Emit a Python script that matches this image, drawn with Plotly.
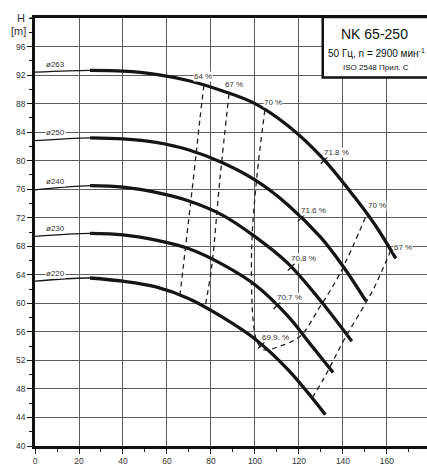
import plotly.graph_objects as go

# ---------------- data ----------------
Q_263 = [0, 25, 40, 55, 70, 85, 100, 115, 130, 145, 155, 164]
H_263 = [92.4, 92.65, 92.55, 92.1, 91.2, 89.8, 88.0, 84.9, 80.6, 75.0, 70.8, 66.3]

Q_250 = [0, 25, 40, 55, 70, 85, 100, 115, 130, 140, 150.5]
H_250 = [82.8, 83.2, 83.05, 82.55, 81.5, 79.75, 77.3, 73.8, 69.2, 65.2, 60.3]

Q_240 = [0, 25, 40, 55, 70, 85, 100, 115, 130, 144]
H_240 = [75.9, 76.5, 76.3, 75.55, 74.35, 72.4, 69.35, 65.6, 60.3, 54.7]

Q_230 = [0, 25, 40, 55, 70, 85, 100, 115, 125, 135.5]
H_230 = [69.4, 69.8, 69.6, 68.85, 67.65, 65.5, 62.6, 58.2, 54.35, 50.3]

Q_220 = [0, 25, 40, 55, 70, 85, 100, 115, 132]
H_220 = [63.1, 63.55, 63.1, 62.3, 60.65, 58.1, 55.0, 50.7, 44.4]

diam_labels = ["ø263", "ø250", "ø240", "ø230", "ø220"]

# best efficiency points
bep_Q = [131.5, 121, 116.5, 110, 103]
bep_H = [80.05, 71.95, 65.1, 59.7, 54.15]
bep_labels = ["71.8 %", "71.6 %", "70.8 %", "70.7 %", "69.9. %"]

# iso-efficiency lines
iso64_Q = [76.8, 75.0, 72.0, 67.4, 65.9]
iso64_H = [90.6, 85.9, 77.5, 65.1, 61.2]
iso67a_Q = [88.2, 84.1, 80.3, 77.3]
iso67a_H = [89.4, 77.55, 65.1, 59.5]
iso70_Q = [104.5, 100.8, 98.5, 99.2, 101.0, 104.0, 111.4, 120.5, 129.5, 138.6, 150.8]
iso70_H = [87.1, 77.55, 67.85, 57.5, 54.6, 53.5, 54.0, 55.4, 59.5, 64.15, 72.5]
iso67b_Q = [161.7, 154.5, 150.8, 140.9, 135.6, 131, 125.8]
iso67b_H = [67.4, 62.4, 60.3, 55.1, 52.0, 49.3, 46.7]

x_ticks = [0, 20, 40, 60, 80, 100, 120, 140, 160]
y_ticks = [40, 44, 48, 52, 56, 60, 64, 68, 72, 76, 80, 84, 88, 92, 96]

title_lines = ["NK 65-250", "50 Гц, n = 2900 мин<sup>-1</sup>", "ISO 2548 Прил. С"]

# ---------------- figure ----------------
FONT = "Liberation Sans, Arial, Helvetica, sans-serif"
TXT = "#333333"
INK = "#151515"

fig = go.Figure()

curves = [(Q_263, H_263), (Q_250, H_250), (Q_240, H_240), (Q_230, H_230), (Q_220, H_220)]
for q, h in curves:
    fig.add_trace(go.Scatter(x=q, y=h, mode="lines",
                             line=dict(color=INK, width=1.3, shape="spline"),
                             hoverinfo="skip", showlegend=False))
    qt = [a for a in q if a >= 25]
    ht = [b for a, b in zip(q, h) if a >= 25]
    fig.add_trace(go.Scatter(x=qt, y=ht, mode="lines",
                             line=dict(color=INK, width=3.3, shape="spline"),
                             hoverinfo="skip", showlegend=False))

iso_lines = [(iso64_Q, iso64_H), (iso67a_Q, iso67a_H), (iso70_Q, iso70_H), (iso67b_Q, iso67b_H)]
for q, h in iso_lines:
    fig.add_trace(go.Scatter(x=q, y=h, mode="lines",
                             line=dict(color="#222222", width=1.3, dash="5px,4px", shape="spline"),
                             hoverinfo="skip", showlegend=False))

fig.add_trace(go.Scatter(x=bep_Q, y=bep_H, mode="markers",
                         marker=dict(symbol="line-ne", size=7,
                                     line=dict(width=1.3, color="#222222")),
                         hoverinfo="skip", showlegend=False))

ann = []
# diameter labels
for (q, h), lab in zip(curves, diam_labels):
    ann.append(dict(x=4.5, y=h[0], text=lab, showarrow=False, xanchor="left",
                    yanchor="middle", yshift=8, bgcolor="white", borderpad=0,
                    font=dict(size=8, color=TXT, family=FONT)))
# BEP labels
for q, h, lab in zip(bep_Q, bep_H, bep_labels):
    ann.append(dict(x=q, y=h, text=lab, showarrow=False, xanchor="left",
                    yanchor="middle", yshift=8, xshift=-1, bgcolor="white", borderpad=0,
                    font=dict(size=8, color=TXT, family=FONT)))
# iso line labels
iso_lab = [
    (iso64_Q[0], iso64_H[0], "64 %", -11, 9),
    (iso67a_Q[0], iso67a_H[0], "67 %", -5, 9.5),
    (iso70_Q[0], iso70_H[0], "70 %", -2, 7.5),
    (iso70_Q[-1], iso70_H[-1], "70 %", 0, 9),
    (iso67b_Q[0], iso67b_H[0], "67 %", 2, 3),
]
for q, h, lab, dx, dy in iso_lab:
    ann.append(dict(x=q, y=h, text=lab, showarrow=False, xanchor="left",
                    yanchor="middle", xshift=dx, yshift=dy, bgcolor="white", borderpad=0,
                    font=dict(size=8, color=TXT, family=FONT)))
# axis unit labels
ann.append(dict(x=0, y=100, xref="x", yref="y", text="H", showarrow=False,
                xanchor="center", yanchor="middle", xshift=-14, yshift=0,
                font=dict(size=11, color=TXT, family=FONT)))
ann.append(dict(x=0, y=98, xref="x", yref="y", text="[m]", showarrow=False,
                xanchor="center", yanchor="middle", xshift=-17, yshift=1,
                font=dict(size=11, color=TXT, family=FONT)))
# title box texts
ann.append(dict(x=0.8673, y=0.963, xref="paper", yref="paper", text=title_lines[0],
                showarrow=False, xanchor="center", yanchor="middle",
                font=dict(size=14, color="#111111", family=FONT)))
ann.append(dict(x=0.872, y=0.9185, xref="paper", yref="paper", text=title_lines[1],
                showarrow=False, xanchor="center", yanchor="middle",
                font=dict(size=10, color="#111111", family=FONT)))
ann.append(dict(x=0.871, y=0.885, xref="paper", yref="paper", text=title_lines[2],
                showarrow=False, xanchor="center", yanchor="middle",
                font=dict(size=8, color="#111111", family=FONT)))

shapes = [
    dict(type="rect", xref="paper", yref="paper", x0=0.734, x1=1.03,
         y0=0.8607, y1=1.0023, line=dict(color="#111111", width=2.5),
         fillcolor="white", layer="above"),
    # major tick at the top of the H axis
    dict(type="line", xref="paper", yref="paper", x0=-0.0128, x1=0, y0=1, y1=1,
         line=dict(color="#111111", width=1.2), layer="above"),
]

GRID = "#5e5e5e"
fig.update_layout(
    width=427, height=466, autosize=False,
    margin=dict(l=35, r=0, t=18, b=15, pad=0),
    paper_bgcolor="white", plot_bgcolor="white",
    font=dict(family=FONT, size=8.5, color=TXT),
    annotations=ann, shapes=shapes, showlegend=False,
    xaxis=dict(range=[0, 178.2], tickmode="array", tickvals=x_ticks,
               ticks="outside", ticklen=5, tickwidth=1.2, tickcolor="#111111",
               showline=True, linewidth=2.6, linecolor="#111111", mirror=True,
               showgrid=True, gridcolor=GRID, gridwidth=1.4, zeroline=False,
               tickfont=dict(size=8.5, color=TXT, family=FONT),
               minor=dict(dtick=10, tick0=0, ticks="outside", ticklen=3,
                          tickwidth=1, tickcolor="#111111", showgrid=False)),
    yaxis=dict(range=[40, 100], tickmode="array", tickvals=y_ticks,
               ticks="outside", ticklen=5, tickwidth=1.2, tickcolor="#111111",
               showline=True, linewidth=2.6, linecolor="#111111",
               showgrid=True, gridcolor=GRID, gridwidth=1.4, zeroline=False,
               tickfont=dict(size=8.5, color=TXT, family=FONT),
               minor=dict(dtick=2, tick0=0, ticks="outside", ticklen=3,
                          tickwidth=1, tickcolor="#111111", showgrid=False)),
)

fig.write_html("out.html")
